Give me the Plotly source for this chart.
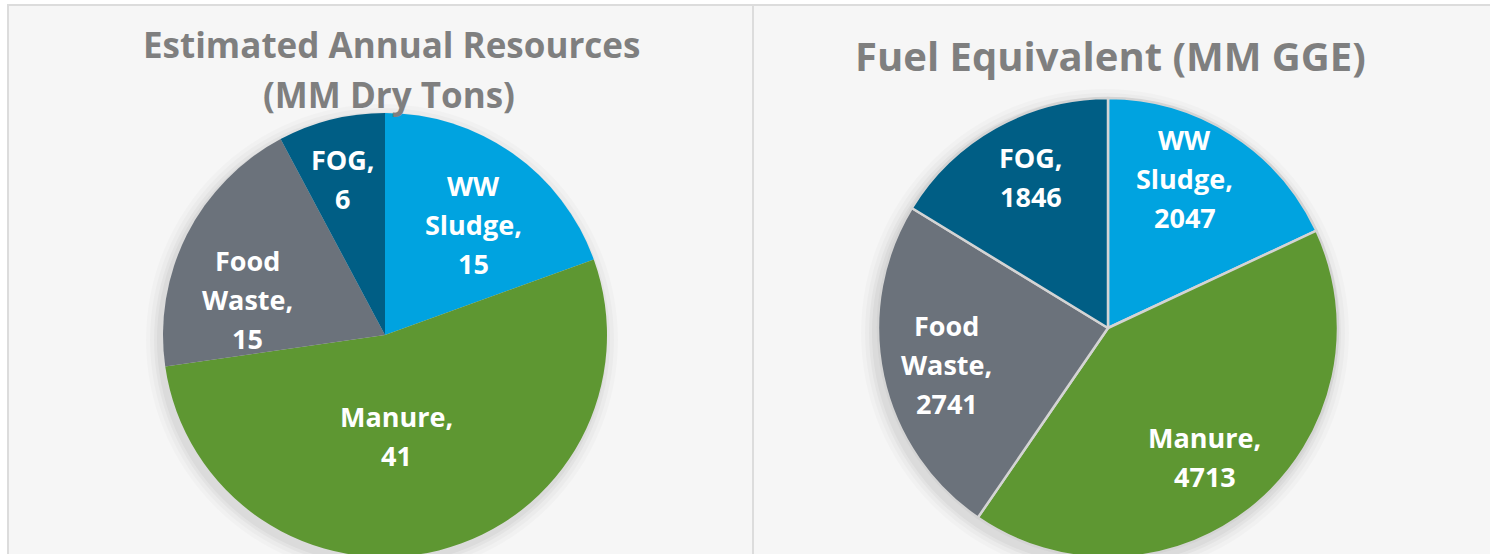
import math
import plotly.graph_objects as go

# ---- data ----
categories = ["WW Sludge", "Manure", "Food Waste", "FOG"]
resources_mm_dry_tons = [15, 41, 15, 6]
fuel_mm_gge = [2047, 4713, 2741, 1846]
titles_left = ["Estimated Annual Resources", "(MM Dry Tons)"]
title_right = "Fuel Equivalent (MM GGE)"
colors = ["#00A3E0", "#5E9732", "#6B727B", "#005E85"]

# ---- layout / style (pixels) ----
W, H = 1490, 570
FONT = "Open Sans"
TITLE_COLOR = "#7F7F7F"
LABEL_SIZE = 27
LINE_STEP = 39
L = dict(cx=385, cy=335, r=222)
R = dict(cx=1108, cy=328, r=230)
# label placement: (angle offset from slice mid-angle in degrees, radius fraction)
label_style_left = [(3.6, 0.64), (7.6, 0.46), (-12.5, 0.64), (-1.1, 0.73)]
label_style_right = [(-5.2, 0.73), (3.4, 0.70), (-0.8, 0.72), (2.3, 0.735)]


def dom(cx, cy, r):
    return dict(x=[(cx - r) / W, (cx + r) / W],
                y=[(H - cy - r) / H, (H - cy + r) / H])


def px(x, y):
    return x / W, 1 - y / H


fig = go.Figure()
for vals, g, lw in [(resources_mm_dry_tons, L, 0), (fuel_mm_gge, R, 2.5)]:
    fig.add_trace(go.Pie(
        labels=categories, values=vals, textinfo="none",
        marker=dict(colors=colors, line=dict(width=lw, color="#D4D4D4")),
        sort=False, direction="clockwise", rotation=0,
        domain=dom(**g), hoverinfo="label+value", showlegend=False,
    ))

shapes = []
# panels
for x0, x1 in [(8, 753), (753, 1500)]:
    a0, b0 = px(x0, 5)
    a1, b1 = px(x1, H + 10)
    shapes.append(dict(type="rect", xref="paper", yref="paper", x0=a0, x1=a1, y0=b1, y1=b0,
                       fillcolor="#F6F6F6", line=dict(color="#DCDCDC", width=2), layer="below"))
# soft shadows
for g in (L, R):
    for k, alpha in [(14, 0.02), (10, 0.025), (6, 0.03), (3, 0.035)]:
        cx, cy, r = g["cx"] - 3, g["cy"] + 5, g["r"] + k
        a0, b0 = px(cx - r, cy - r)
        a1, b1 = px(cx + r, cy + r)
        shapes.append(dict(type="circle", xref="paper", yref="paper", x0=a0, x1=a1, y0=b1, y1=b0,
                           fillcolor=f"rgba(0,0,0,{alpha})", line=dict(width=0), layer="below"))

annotations = []
for txt, (x, y), size in [(titles_left[0], (391, 44), 35), (titles_left[1], (389, 94), 35),
                          (title_right, (1110, 56), 40)]:
    ax, ay = px(x, y)
    annotations.append(dict(text="<b>" + txt + "</b>", x=ax, y=ay, xref="paper", yref="paper",
                            xanchor="center", yanchor="middle", showarrow=False,
                            font=dict(family=FONT, size=size, color=TITLE_COLOR)))

# slice labels placed from the data's angles
for vals, g, style in [(resources_mm_dry_tons, L, label_style_left),
                       (fuel_mm_gge, R, label_style_right)]:
    total = sum(vals)
    start = 0.0
    for cat, v, (doff, rf) in zip(categories, vals, style):
        span = 360.0 * v / total
        ang = math.radians(start + span / 2 + doff)
        start += span
        cx = g["cx"] + math.sin(ang) * rf * g["r"]
        cy = g["cy"] - math.cos(ang) * rf * g["r"]
        lines = cat.split(" ") + [f"{v}"]
        lines = [ln + "," if i == len(lines) - 2 else ln for i, ln in enumerate(lines)]
        n = len(lines)
        for i, ln in enumerate(lines):
            ax, ay = px(cx, cy + (i - (n - 1) / 2) * LINE_STEP)
            annotations.append(dict(text="<b>" + ln + "</b>", x=ax, y=ay, xref="paper", yref="paper",
                                    xanchor="center", yanchor="middle", showarrow=False,
                                    font=dict(family=FONT, size=LABEL_SIZE, color="white")))

fig.update_layout(width=W, height=H, margin=dict(l=0, r=0, t=0, b=0),
                  paper_bgcolor="white", plot_bgcolor="white",
                  shapes=shapes, annotations=annotations)

fig.write_html("out.html", config={"displayModeBar": False},
               post_script="document.body.style.margin='0';document.body.style.overflow='hidden';")
